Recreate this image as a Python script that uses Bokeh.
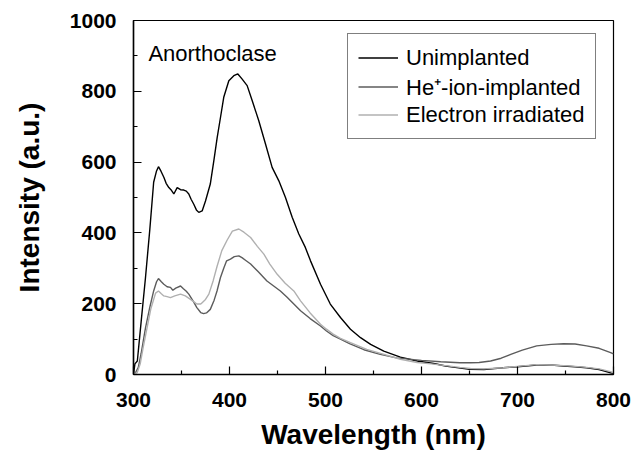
from bokeh.plotting import figure
from bokeh.models import FixedTicker, Label, Legend, LegendItem
from bokeh.embed import file_html
from bokeh.resources import INLINE

# Unimplanted (black)
wl_un = [300, 301.5, 304, 308, 312.5, 317, 321, 324, 326, 328.5, 331.6, 334, 336.8, 339, 342,
         345.5, 349, 352.4, 355, 357.6, 360, 362.8, 365.5, 368, 371.5, 375, 380, 383.7, 387.2,
         390.6, 394, 399.3, 404.5, 408.7, 413, 418.4, 423.6, 430.5, 437.5, 444.4, 451.4, 458.3,
         465.3, 472.2, 479, 484.4, 494.8, 505, 515.6, 526, 536.5, 547, 560.7, 578, 595.5,
         612.8, 625, 635, 650, 665, 685, 700, 720, 735, 748, 760, 772, 785, 797, 800]
int_un = [2, 30, 38, 150, 274, 410, 543, 575, 587, 575, 557, 540, 528, 522, 510,
          528, 522, 521, 518, 510, 495, 481, 465, 458, 462, 490, 538, 604, 670,
          726, 783, 830, 844, 849, 835, 816, 774, 717, 651, 585, 547, 500,
          444, 397, 359, 321, 255, 199, 161, 128, 104, 85, 66, 49, 38,
          31, 24, 20, 15, 14, 19, 22, 27, 27, 24, 22, 19, 14, 5, 3]

# He+-ion-implanted (dark grey)
wl_he = [300, 302, 305, 308, 312.5, 317, 321, 324, 326, 329, 331.6, 335, 338.5, 341, 344, 349,
         352, 355, 357.6, 362, 366, 370, 373, 376, 380, 384, 387, 390.6, 394, 397, 401, 405,
         409.7, 413, 417, 422, 430, 439, 446, 453, 460, 467, 474, 484, 494.8, 501, 508, 515.6,
         525, 540, 557, 574, 592, 600, 620, 640, 651, 660, 672, 683, 693, 705, 720, 735, 748,
         760, 772, 785, 797, 800]
int_he = [0, 5, 20, 60, 132, 190, 236, 262, 271, 262, 255, 248, 246, 238, 244, 250,
          242, 235, 227, 208, 189, 175, 172, 174, 184, 210, 236, 274, 300, 321, 326, 333,
          335, 330, 322, 312, 290, 264, 250, 236, 218, 199, 180, 158, 137, 123, 110, 100,
          87, 70, 57, 47, 42, 40, 36, 33, 33, 34, 38, 46, 57, 69, 81, 85, 87,
          86, 81, 74, 62, 58]

# Electron irradiated (light grey)
wl_el = [300, 303.8, 307, 310, 313.5, 318, 323, 326, 329, 331.6, 335, 338.5, 343, 349, 354, 359,
         363, 366, 370, 371.5, 375, 378.5, 383, 387, 392, 397.6, 403, 409.7, 415, 422, 429,
         435.8, 442, 449.7, 458, 467, 474, 484, 494.8, 501, 508, 515.6, 526, 543, 561, 578, 595.5,
         610, 625, 640, 651, 665, 685, 700, 720, 735, 748, 760, 772, 785, 797, 800]
int_el = [0, 5, 30, 75, 123, 185, 230, 236, 228, 222, 220, 217, 222, 227, 222, 213,
          205, 199, 199, 203, 212, 227, 265, 305, 350, 380, 405, 411, 402, 387, 362,
          340, 312, 283, 258, 236, 208, 174, 142, 128, 114, 102, 90, 71, 57, 43, 34,
          30, 25, 20, 17, 16, 19, 23, 28, 27, 25, 23, 20, 16, 8, 5]

x_ticks = [300, 400, 500, 600, 700, 800]
x_minor = [350, 450, 550, 650, 750]
y_ticks = [0, 200, 400, 600, 800, 1000]
y_minor = [100, 300, 500, 700, 900]

FONT = "Liberation Sans"

p = figure(width=641, height=456, x_range=(300, 800), y_range=(0, 1000),
           output_backend="svg", toolbar_location=None,
           min_border_left=133, min_border_right=28, min_border_top=20, min_border_bottom=82)
p.grid.visible = False
p.outline_line_color = "black"
p.outline_line_width = 1.2
p.background_fill_color = "white"
p.border_fill_color = "white"

r_un = p.line(wl_un, int_un, line_color="black", line_width=1.4)
r_he = p.line(wl_he, int_he, line_color="#5c5c5c", line_width=1.4)
r_el = p.line(wl_el, int_el, line_color="#b0b0b0", line_width=1.4)

for ax in (p.xaxis[0], p.yaxis[0]):
    ax.axis_line_color = "black"
    ax.axis_line_width = 1.5
    ax.major_tick_in = 8
    ax.major_tick_out = 0
    ax.minor_tick_in = 4
    ax.minor_tick_out = 0
    ax.major_tick_line_width = 1.2
    ax.minor_tick_line_width = 1.2
    ax.major_label_text_font = FONT
    ax.major_label_text_font_style = "bold"
    ax.major_label_text_font_size = "21px"
    ax.major_label_text_color = "black"
    ax.axis_label_text_font = FONT
    ax.axis_label_text_font_style = "bold"
    ax.axis_label_text_font_size = "28px"
    ax.axis_label_text_color = "black"

p.xaxis[0].ticker = FixedTicker(ticks=x_ticks, minor_ticks=x_minor)
p.yaxis[0].ticker = FixedTicker(ticks=y_ticks, minor_ticks=y_minor)
p.xaxis[0].major_label_standoff = 18
p.yaxis[0].major_label_standoff = 17
p.xaxis[0].axis_label = "Wavelength (nm)"
p.yaxis[0].axis_label = "Intensity (a.u.)"
p.xaxis[0].axis_label_standoff = 9
p.yaxis[0].axis_label_standoff = 22

p.add_layout(Label(x=315.5, y=908, text="Anorthoclase", text_font=FONT,
                   text_font_size="22px", text_color="black", text_baseline="alphabetic"))

legend = Legend(items=[LegendItem(label="Unimplanted", renderers=[r_un]),
                       LegendItem(label="He\u207a-ion-implanted", renderers=[r_he]),
                       LegendItem(label="Electron irradiated", renderers=[r_el])],
                location=(214, 235))
legend.label_text_font = FONT
legend.label_text_font_size = "22px"
legend.label_text_color = "black"
legend.glyph_width = 40
legend.glyph_height = 27
legend.label_height = 27
legend.spacing = 0
legend.padding = 10
legend.label_standoff = 8
legend.border_line_color = "black"
legend.border_line_width = 1.2
legend.background_fill_alpha = 1.0
legend.margin = 0
p.add_layout(legend)

open("out.html", "w").write(file_html(p, INLINE))
